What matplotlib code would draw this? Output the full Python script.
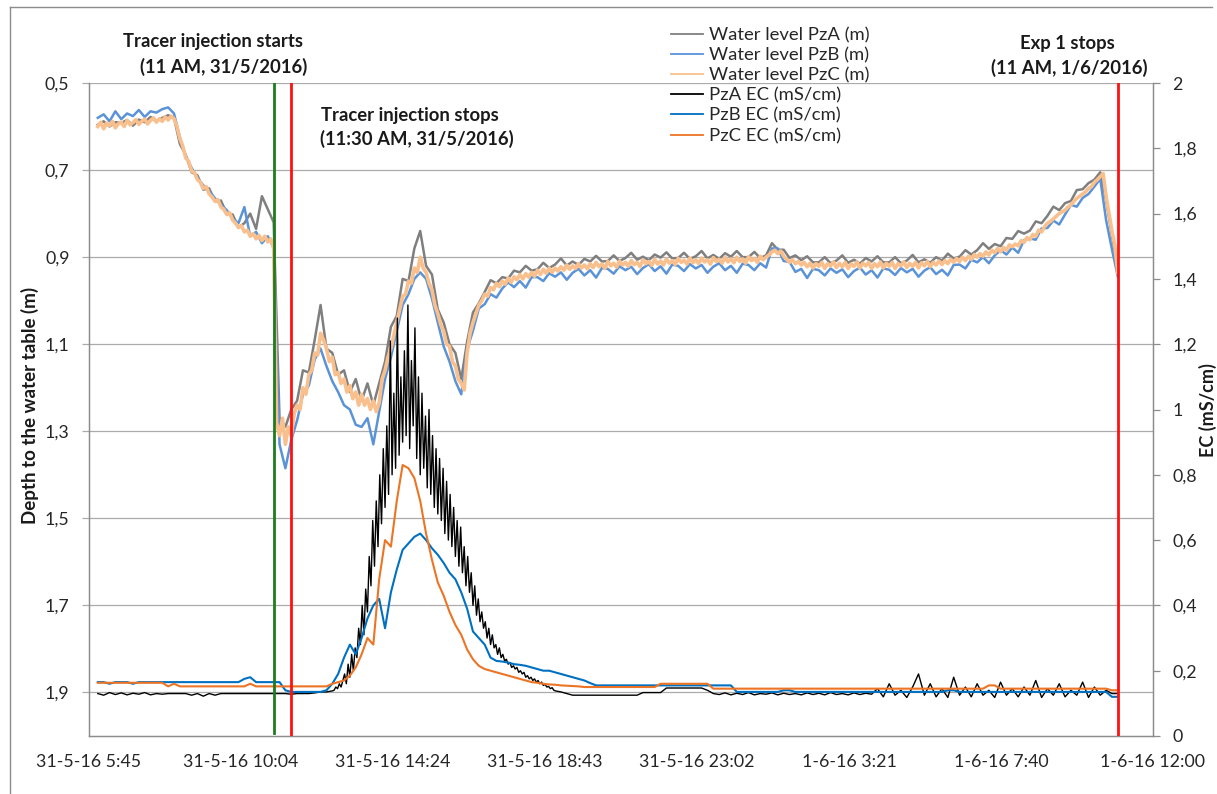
import numpy as np
import pandas as pd
import matplotlib
matplotlib.use("Agg")
import matplotlib.pyplot as plt
from matplotlib.lines import Line2D

plt.rcParams['font.family'] = ['Lato', 'DejaVu Sans']

# ---------------------------------------------------------------- data
origin = pd.Timestamp("2016-05-31 05:45")
axis_end = pd.Timestamp("2016-06-01 12:00")
first_sample = pd.Timestamp("2016-05-31 06:00")

# depth to the water table (m); PzA and PzB every 10 min, PzC every 5 min, from 06:00
wl_pza = [0.596, 0.588, 0.600, 0.590, 0.592, 0.585, 0.598, 0.584, 0.590, 0.578, 0.588, 0.580, 0.574, 0.580,
          0.640, 0.665, 0.705, 0.712, 0.745, 0.742, 0.772, 0.770, 0.800, 0.802, 0.832, 0.822, 0.800, 0.835, 0.760, 0.790, 0.820,
          1.270, 1.290, 1.250, 1.230, 1.160, 1.165, 1.090, 1.010, 1.110, 1.120, 1.170, 1.160, 1.210, 1.180, 1.230, 1.190, 1.240,
          1.190, 1.140, 1.060, 1.035, 0.950, 0.955, 0.880, 0.840, 0.920, 0.940, 1.020, 1.050, 1.100, 1.120, 1.180,
          1.094, 1.027, 1.006, 0.980, 0.953, 0.960, 0.946, 0.949, 0.931, 0.935, 0.920, 0.931, 0.928, 0.913, 0.925, 0.917,
          0.903, 0.919, 0.910, 0.918, 0.904, 0.910,
          0.897, 0.910, 0.909, 0.896, 0.909, 0.902, 0.890, 0.906, 0.899, 0.907, 0.894, 0.901,
          0.889, 0.903, 0.902, 0.890, 0.904, 0.898, 0.886, 0.903, 0.895, 0.904, 0.891, 0.899,
          0.886, 0.900, 0.900, 0.888, 0.902, 0.896,
          0.868, 0.883, 0.883, 0.902, 0.896, 0.907,
          0.898, 0.912, 0.912, 0.900, 0.914, 0.908, 0.896, 0.913, 0.906, 0.915, 0.902, 0.910,
          0.898, 0.912, 0.912, 0.900, 0.914, 0.908, 0.895, 0.912, 0.905, 0.913, 0.900, 0.908,
          0.892, 0.903, 0.899, 0.884, 0.894, 0.884,
          0.868, 0.881, 0.870, 0.875, 0.856, 0.858,
          0.840, 0.846, 0.839, 0.818, 0.822, 0.805,
          0.784, 0.792, 0.776, 0.771, 0.746, 0.744,
          0.730, 0.722, 0.705, 0.770, 0.850, 0.930]

wl_pzb = [0.580, 0.572, 0.588, 0.565, 0.583, 0.570, 0.576, 0.562, 0.578, 0.565, 0.568, 0.560, 0.556, 0.570,
          0.625, 0.668, 0.695, 0.718, 0.735, 0.748, 0.765, 0.780, 0.792, 0.812, 0.822, 0.785, 0.852, 0.842, 0.868, 0.852, 0.878,
          1.330, 1.385, 1.320, 1.275, 1.215, 1.195, 1.135, 1.110, 1.150, 1.185, 1.210, 1.240, 1.250, 1.285, 1.290, 1.270, 1.330,
          1.255, 1.180, 1.130, 1.070, 1.010, 0.985, 0.950, 0.935, 0.950, 0.995, 1.050, 1.105, 1.140, 1.185, 1.215,
          1.112, 1.069, 1.018, 1.008, 0.985, 0.993, 0.972, 0.958, 0.969, 0.955, 0.970, 0.946, 0.946, 0.955, 0.937, 0.945,
          0.935, 0.952, 0.936, 0.927, 0.942, 0.930,
          0.947, 0.925, 0.927, 0.938, 0.921, 0.930, 0.922, 0.939, 0.925, 0.916, 0.932, 0.921,
          0.938, 0.917, 0.920, 0.932, 0.916, 0.926, 0.918, 0.936, 0.922, 0.914, 0.930, 0.920,
          0.936, 0.915, 0.918, 0.930, 0.914, 0.924,
          0.880, 0.880, 0.909, 0.911, 0.934, 0.927,
          0.948, 0.927, 0.930, 0.942, 0.926, 0.936, 0.928, 0.946, 0.932, 0.924, 0.940, 0.930,
          0.947, 0.926, 0.929, 0.941, 0.925, 0.935, 0.927, 0.945, 0.931, 0.923, 0.939, 0.929,
          0.942, 0.918, 0.917, 0.926, 0.906, 0.912,
          0.900, 0.914, 0.896, 0.884, 0.894, 0.878,
          0.890, 0.861, 0.857, 0.860, 0.834, 0.833,
          0.816, 0.825, 0.802, 0.780, 0.784, 0.764,
          0.755, 0.738, 0.720, 0.815, 0.882, 0.945]

wl_pzc = [0.600, 0.590, 0.605, 0.592, 0.598, 0.588, 0.603, 0.594, 0.590, 0.600, 0.586, 0.596, 0.591,
          0.584, 0.595, 0.588, 0.583, 0.594, 0.586, 0.580, 0.590, 0.582, 0.588, 0.578, 0.585, 0.576,
          0.582, 0.600, 0.628, 0.645, 0.672, 0.680, 0.702, 0.706, 0.722, 0.728, 0.742, 0.738,
          0.755, 0.762, 0.772, 0.768, 0.785, 0.790, 0.802, 0.798, 0.815, 0.822, 0.832, 0.828,
          0.842, 0.838, 0.852, 0.846, 0.858, 0.850, 0.862, 0.852, 0.865, 0.858, 0.880,
          1.280, 1.310, 1.270, 1.330, 1.290, 1.310, 1.260, 1.240, 1.250, 1.200,
          1.215, 1.170, 1.160, 1.120, 1.125, 1.075, 1.090, 1.110, 1.140, 1.130,
          1.170, 1.165, 1.190, 1.180, 1.210, 1.195, 1.225, 1.210, 1.240, 1.215,
          1.240, 1.225, 1.250, 1.230, 1.255, 1.235, 1.180, 1.160, 1.130, 1.110,
          1.080, 1.050, 1.020, 0.990, 0.985, 0.955, 0.960, 0.925, 0.935, 0.900,
          0.925, 0.935, 0.960, 0.975, 1.010, 1.030, 1.055, 1.070, 1.100, 1.105,
          1.140, 1.150, 1.180, 1.190, 1.205, 1.120, 1.075, 1.050, 1.030, 1.010,
          1.000, 0.985, 0.990, 0.970, 0.975, 0.960, 0.968, 0.955, 0.962, 0.948,
          0.958, 0.945, 0.952, 0.940, 0.950, 0.938, 0.946, 0.935, 0.944, 0.930,
          0.940, 0.928, 0.937, 0.925, 0.935, 0.925,
          0.932, 0.922, 0.930, 0.918, 0.928, 0.920, 0.926, 0.915, 0.925, 0.918, 0.927, 0.915,
          0.924, 0.912, 0.922, 0.916, 0.926, 0.910, 0.920, 0.914, 0.923, 0.909, 0.918, 0.912,
          0.921, 0.908, 0.917, 0.912, 0.922, 0.906, 0.915, 0.910, 0.919, 0.905, 0.916, 0.909,
          0.918, 0.904, 0.914, 0.908, 0.917, 0.903, 0.912, 0.907, 0.916, 0.902, 0.913, 0.906,
          0.915, 0.902, 0.911, 0.906, 0.916, 0.901, 0.910, 0.905, 0.914, 0.900, 0.911, 0.904,
          0.913, 0.900, 0.910, 0.904, 0.914, 0.899, 0.908, 0.903, 0.912, 0.898, 0.906, 0.900,
          0.895, 0.888, 0.884, 0.892, 0.886, 0.898, 0.905, 0.912, 0.906, 0.915, 0.910, 0.918,
          0.912, 0.922, 0.914, 0.925, 0.915, 0.921, 0.912, 0.926, 0.915, 0.920, 0.911, 0.924,
          0.914, 0.922, 0.912, 0.926, 0.916, 0.921, 0.911, 0.925, 0.914, 0.920, 0.912, 0.926,
          0.915, 0.922, 0.911, 0.925, 0.914, 0.921, 0.912, 0.926, 0.915, 0.920, 0.911, 0.924,
          0.914, 0.921, 0.912, 0.925, 0.913, 0.920, 0.910, 0.922, 0.912, 0.918, 0.909, 0.917,
          0.908, 0.915, 0.905, 0.912, 0.903, 0.910, 0.900, 0.908, 0.898, 0.905, 0.894, 0.900,
          0.892, 0.898, 0.888, 0.895, 0.884, 0.890, 0.880, 0.888, 0.878, 0.884, 0.872, 0.876,
          0.870, 0.874, 0.862, 0.866, 0.855, 0.860, 0.848, 0.852, 0.838, 0.842, 0.830, 0.822,
          0.818, 0.812, 0.806, 0.800, 0.796, 0.792, 0.785, 0.780, 0.772, 0.765, 0.760, 0.755,
          0.750, 0.742, 0.738, 0.728, 0.722, 0.715, 0.708, 0.760, 0.800, 0.840, 0.875, 0.935]

# electrical conductivity (mS/cm), every 10 min from 06:00
ec_pzb = [0.165, 0.165, 0.160, 0.165, 0.165, 0.165, 0.160, 0.165, 0.165, 0.165, 0.165, 0.165, 0.165, 0.165,
          0.165, 0.165, 0.165, 0.165, 0.165, 0.165, 0.165,
          0.165, 0.165, 0.165, 0.165, 0.175, 0.180, 0.165, 0.165, 0.165, 0.165, 0.165,
          0.140, 0.135, 0.135, 0.135, 0.135, 0.135, 0.135,
          0.140, 0.160, 0.190, 0.240, 0.280, 0.250, 0.300, 0.360, 0.400, 0.420, 0.330, 0.440,
          0.510, 0.570, 0.590, 0.610, 0.620, 0.600, 0.575, 0.555, 0.530, 0.500, 0.480, 0.440,
          0.390, 0.320, 0.300, 0.280, 0.240, 0.230, 0.228, 0.225, 0.220, 0.218, 0.215, 0.210, 0.205, 0.200,
          0.200, 0.195, 0.190, 0.185, 0.180, 0.175, 0.170, 0.162,
          0.155, 0.155, 0.155, 0.155, 0.155, 0.155, 0.155, 0.155, 0.155, 0.155, 0.155, 0.155,
          0.155, 0.155, 0.155, 0.155, 0.155, 0.155, 0.155, 0.155, 0.155, 0.155, 0.155, 0.155,
          0.135, 0.135, 0.135, 0.135, 0.135, 0.135, 0.135, 0.135, 0.140, 0.140, 0.135, 0.135, 0.135, 0.135, 0.135, 0.135,
          0.135, 0.135, 0.135, 0.135, 0.135, 0.135, 0.135, 0.135, 0.135, 0.135, 0.135, 0.135, 0.135, 0.135, 0.135, 0.135,
          0.135, 0.135, 0.135, 0.135, 0.140, 0.140, 0.135, 0.135, 0.135, 0.135, 0.135, 0.135, 0.135, 0.135, 0.135, 0.135,
          0.135, 0.135, 0.135, 0.135, 0.135, 0.135, 0.135, 0.135, 0.135, 0.135, 0.135, 0.135, 0.135, 0.135, 0.135, 0.135,
          0.120, 0.120]

ec_pzc = [0.163, 0.163, 0.163, 0.163, 0.163, 0.163, 0.163, 0.163, 0.163, 0.163, 0.163, 0.163,
          0.152, 0.160, 0.152, 0.152, 0.152, 0.152, 0.152, 0.152, 0.152, 0.152, 0.152, 0.152, 0.152, 0.152,
          0.160, 0.152, 0.152, 0.152, 0.152, 0.152, 0.152, 0.152, 0.152, 0.152, 0.152, 0.152, 0.152,
          0.152, 0.160, 0.165, 0.170, 0.185, 0.210, 0.250, 0.300, 0.280,
          0.480, 0.600, 0.580, 0.720, 0.830, 0.820, 0.790, 0.720, 0.620, 0.540, 0.470, 0.430, 0.380, 0.340, 0.310,
          0.265, 0.235, 0.215, 0.205, 0.200, 0.195, 0.190, 0.185, 0.180, 0.175,
          0.170, 0.165, 0.163, 0.160, 0.158, 0.157, 0.155, 0.154, 0.153, 0.152,
          0.150, 0.150, 0.150, 0.150, 0.150, 0.150, 0.150, 0.150, 0.150, 0.150, 0.150, 0.150, 0.150,
          0.160, 0.160, 0.160, 0.160, 0.160, 0.160, 0.160, 0.160, 0.160,
          0.145, 0.145, 0.145, 0.145, 0.145, 0.145, 0.145, 0.145, 0.145, 0.145, 0.145, 0.145, 0.145, 0.145, 0.145, 0.145, 0.145,
          0.145, 0.145, 0.145, 0.145, 0.145, 0.145, 0.145, 0.145, 0.145, 0.145, 0.145, 0.145, 0.145, 0.145, 0.145, 0.145, 0.145,
          0.145, 0.145, 0.145, 0.145, 0.145, 0.145, 0.145, 0.145, 0.145, 0.145, 0.145, 0.145, 0.145, 0.155, 0.155, 0.145, 0.145,
          0.145, 0.145, 0.145, 0.145, 0.145, 0.145, 0.145, 0.145, 0.145, 0.145, 0.145, 0.145, 0.145, 0.145, 0.145, 0.145, 0.145,
          0.140, 0.140]

# PzA EC is logged every 10 min before and after the tracer peak, every 3 min across it
ec_pza_before = [0.130, 0.125, 0.133, 0.127, 0.132, 0.126, 0.131, 0.128, 0.133, 0.126, 0.130, 0.128,
                 0.130, 0.130, 0.130, 0.130, 0.125, 0.130, 0.122, 0.130, 0.125, 0.130, 0.130, 0.130,
                 0.130, 0.130, 0.130, 0.130, 0.130, 0.130, 0.130, 0.130, 0.130, 0.128, 0.130, 0.130,
                 0.130, 0.132, 0.135, 0.135, 0.138]
ec_pza_peak = [0.14, 0.15, 0.145, 0.16, 0.15, 0.17,
               0.19, 0.16, 0.22, 0.18, 0.25, 0.20,
               0.27, 0.24, 0.33, 0.28, 0.40, 0.31,
               0.45, 0.38, 0.55, 0.46, 0.66, 0.52,
               0.72, 0.58, 0.80, 0.65, 0.88, 0.70,
               0.95, 0.74, 1.21, 0.80, 1.05, 0.82,
               1.28, 0.86, 1.10, 0.90, 1.18, 0.92,
               1.32, 0.88, 1.15, 0.95, 1.25, 0.85,
               1.10, 0.80, 1.05, 0.82, 0.98, 0.76,
               1.00, 0.74, 0.92, 0.70, 0.88, 0.68,
               0.85, 0.66, 0.82, 0.62, 0.78, 0.60,
               0.74, 0.58, 0.70, 0.55, 0.66, 0.52,
               0.64, 0.50, 0.58, 0.46, 0.55, 0.44,
               0.50, 0.40, 0.46, 0.37, 0.42, 0.35,
               0.38, 0.33, 0.35, 0.30, 0.33, 0.28,
               0.31, 0.27, 0.28, 0.25, 0.27, 0.24,
               0.25, 0.23, 0.235, 0.22, 0.225, 0.21,
               0.215, 0.205, 0.21, 0.195, 0.20, 0.19,
               0.195, 0.18, 0.185, 0.175, 0.18, 0.17,
               0.175, 0.165, 0.17, 0.16, 0.165, 0.155,
               0.158, 0.15, 0.152, 0.145, 0.148, 0.14, 0.138]
ec_pza_after = [0.135, 0.130,
                0.125, 0.125, 0.125, 0.125, 0.125, 0.125, 0.125, 0.125, 0.125, 0.125, 0.125, 0.125,
                0.133, 0.133, 0.133, 0.133,
                0.147, 0.147, 0.147, 0.147, 0.147, 0.147, 0.147,
                0.140,
                0.130, 0.127, 0.132, 0.126, 0.131, 0.127, 0.133, 0.126, 0.130, 0.128, 0.132, 0.126, 0.131, 0.127,
                0.130, 0.126, 0.132, 0.127, 0.131, 0.126, 0.133, 0.127, 0.130, 0.126, 0.132, 0.127, 0.131, 0.128,
                0.145, 0.120, 0.160, 0.125, 0.140, 0.118, 0.150, 0.190, 0.125, 0.160, 0.120, 0.145,
                0.118, 0.180, 0.125, 0.150, 0.120, 0.160, 0.125, 0.140, 0.118, 0.165, 0.125, 0.145,
                0.120, 0.150, 0.125, 0.170, 0.118, 0.145, 0.125, 0.160, 0.120, 0.140, 0.125, 0.165,
                0.118, 0.150, 0.125, 0.140,
                0.130, 0.130]
ec_pza_before_start = pd.Timestamp("2016-05-31 06:00")
ec_pza_peak_start = pd.Timestamp("2016-05-31 12:43")
ec_pza_after_start = pd.Timestamp("2016-05-31 19:10")

series_labels = ["Water level PzA (m)", "Water level PzB (m)", "Water level PzC (m)",
                 "PzA EC (mS/cm)", "PzB EC (mS/cm)", "PzC EC (mS/cm)"]

x_tick_labels = ["31-5-16 5:45", "31-5-16 10:04", "31-5-16 14:24", "31-5-16 18:43",
                 "31-5-16 23:02", "1-6-16 3:21", "1-6-16 7:40", "1-6-16 12:00"]
depth_ticks = [0.5, 0.7, 0.9, 1.1, 1.3, 1.5, 1.7, 1.9]
depth_tick_labels = ["0,5", "0,7", "0,9", "1,1", "1,3", "1,5", "1,7", "1,9"]
ec_ticks = [0.0, 0.2, 0.4, 0.6, 0.8, 1.0, 1.2, 1.4, 1.6, 1.8, 2.0]
ec_tick_labels = ["0", "0,2", "0,4", "0,6", "0,8", "1", "1,2", "1,4", "1,6", "1,8", "2"]

injection_start = pd.Timestamp("2016-05-31 11:00")
injection_stop = pd.Timestamp("2016-05-31 11:30")
experiment_stop = pd.Timestamp("2016-06-01 11:00")


def minutes(ts):
    return (ts - origin) / pd.Timedelta(minutes=1)


def sampled(start, step_min, n):
    return minutes(start) + step_min * np.arange(n)


t_wl10 = sampled(first_sample, 10, len(wl_pza))
t_wl5 = sampled(first_sample, 5, len(wl_pzc))
t_ec = sampled(first_sample, 10, len(ec_pzb))
t_ec_a = np.concatenate([sampled(ec_pza_before_start, 10, len(ec_pza_before)),
                         sampled(ec_pza_peak_start, 3, len(ec_pza_peak)),
                         sampled(ec_pza_after_start, 10, len(ec_pza_after))])
ec_pza = np.concatenate([ec_pza_before, ec_pza_peak, ec_pza_after])

# ---------------------------------------------------------------- figure
W, H = 1217, 794
fig = plt.figure(figsize=(W / 100, H / 100), dpi=100)
fig.patch.set_facecolor("white")


def fx(px):
    return px / W


def fy(py):
    return 1 - py / H


ax = fig.add_axes([fx(89), fy(736), (1153 - 89) / W, (736 - 83) / H])
ax2 = ax.twinx()

axis_grey = "#8C8C8C"
grid_grey = "#ABABAB"
text_col = "#262626"
colors = ["#7F7F7F", "#5B93D8", "#F9C08E", "black", "#0070C0", "#EC7424"]

# water levels on the depth axis
ax.plot(t_wl10, wl_pza, color=colors[0], lw=1.8)
ax.plot(t_wl10, wl_pzb, color=colors[1], lw=1.8)
ax.plot(t_wl5, wl_pzc, color=colors[2], lw=2.6)

# conductivity on the secondary axis
ax2.plot(t_ec_a, ec_pza, color=colors[3], lw=1.0)
ax2.plot(t_ec, ec_pzb, color=colors[4], lw=1.5)
ax2.plot(t_ec, ec_pzc, color=colors[5], lw=1.5)

# event markers
ax2.axvline(minutes(injection_start), ymin=0.005, ymax=1, color="#1E7B1E", lw=2.0, zorder=10)
ax2.axvline(minutes(injection_stop), color="#FF1010", lw=2.0, zorder=10)
ax2.axvline(minutes(experiment_stop), color="#FF1010", lw=2.0, zorder=10)

# axes limits and ticks
ax.set_xlim(0, minutes(axis_end))
ax.set_xticks(np.linspace(0, minutes(axis_end), len(x_tick_labels)))
ax.set_xticklabels(x_tick_labels)
ax.set_ylim(2.0, 0.5)
ax.set_yticks(depth_ticks)
ax.set_yticklabels(depth_tick_labels)
ax2.set_ylim(0, 2)
ax2.set_yticks(ec_ticks)
ax2.set_yticklabels(ec_tick_labels)

ax.grid(axis="y", color=grid_grey, lw=0.9)
ax.set_axisbelow(True)
for a in (ax, ax2):
    a.spines["top"].set_visible(False)
    for s in ("left", "right", "bottom"):
        a.spines[s].set_color(axis_grey)
        a.spines[s].set_linewidth(0.9)
ax.tick_params(axis="x", length=0, pad=13, labelsize=12.8, colors=text_col)
ax.tick_params(axis="y", length=5, width=0.9, color=grid_grey, pad=9, labelsize=12.8, labelcolor=text_col)
ax2.tick_params(axis="y", length=5, width=0.9, color=axis_grey, pad=9, labelsize=12.8, labelcolor=text_col)

fig.text(fx(30), fy(405), "Depth to the water table (m)", rotation=90, ha="center", va="center",
         fontsize=13.5, fontweight="bold", color="#1a1a1a")
fig.text(fx(1208), fy(410), "EC (mS/cm)", rotation=90, ha="center", va="center",
         fontsize=13, fontweight="bold", color="#1a1a1a")

# annotations
note_kw = dict(fontsize=13.3, fontweight="bold", color="#1a1a1a", va="center")
fig.text(fx(213), fy(42), "Tracer injection starts", ha="center", **note_kw)
fig.text(fx(224), fy(67), "(11 AM, 31/5/2016)", ha="center", **note_kw)
fig.text(fx(321), fy(115), "Tracer injection stops", ha="left", **note_kw)
fig.text(fx(320), fy(139), "(11:30 AM, 31/5/2016)", ha="left", **note_kw)
fig.text(fx(1067), fy(43), "Exp 1 stops", ha="center", **note_kw)
fig.text(fx(1069), fy(68), "(11 AM, 1/6/2016)", ha="center", **note_kw)

# legend with uniform thin keys
handles = [Line2D([], [], color=c, lw=1.3) for c in colors]
fig.legend(handles, series_labels, loc="upper left", bbox_to_anchor=(fx(671), fy(27)),
           frameon=False, fontsize=13.3, handlelength=1.75, handletextpad=0.3,
           labelspacing=0.22, borderpad=0, borderaxespad=0, labelcolor=text_col)

# chart-area border
fig.add_artist(plt.Line2D([fx(10), fx(10)], [fy(7), 0], color=axis_grey, lw=1.0))
fig.add_artist(plt.Line2D([fx(10), fx(1212)], [fy(7), fy(7)], color=axis_grey, lw=1.0))

fig.savefig("out.png", dpi=100, facecolor="white")
